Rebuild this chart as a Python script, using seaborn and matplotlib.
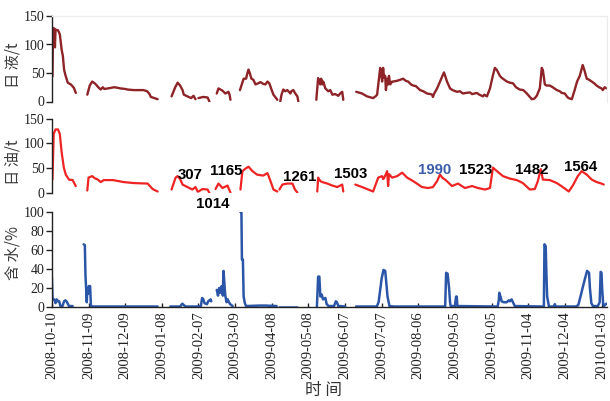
import numpy as np
import pandas as pd
import matplotlib
matplotlib.use("Agg")
import matplotlib.pyplot as plt
import seaborn as sns

nan = np.nan

# ---- data (day offsets from 2008-10-10; nan marks a gap between segments) ----
liquid_day = [0.5, 1, 2, 2.5, 3, 5, 6.5, 8, 9, 10, 11, 13, 15.5, 18, 19.6, nan,
              29, 31, 33, 35, 36, 38, 40, 41.7, 43, 46, 51, 54, 56, 60, 62, 67, 72, 75, 78, 80, 81, 84, 86.6, nan,
              98, 101, 103, 105, 107, 108, 111, 114, 116, 117.6, nan,
              120, 124, 127.5, 129, nan,
              135, 136.4, 139.7, 142, 144.6, 145.5, 146.2, nan,
              154, 157, 159, 160, 161, 162, 163.4, 165, 166.7, 169, 170.8, 173, 174.8, 176.5, 178, 179, 180, 181.4, 184.6, nan,
              187, 188, 189.5, 191, 192.8, 195.3, 196, 197.7, 199, 201, 201.8, nan,
              216.5, 218, 219, 219.8, 220.5, 221.4, 222.2, 223.9, 226.3, 228, 229.6, 232, 234.5, 236, 237.7, 238.6, nan,
              249.2, 254, 258, 263, 265, 266.3, 268.8, 269.5, 270.4, 271.2,
              272, 272.9, 273.5, 274.5, 275.3, 276, 277, 278.6, 279.4, 282,
              285.1, 287.6, 290, 291.7, 294, 295.8, 298, 301.5, 304, 307.2,
              310, 311.3, 312, 313, 315.4, 318, 321, 322, 323.5, 326,
              328, 331.7, 334, 336.6, 339, 342.3, 344, 348, 350, 353,
              354, 356.2, 358.7, 361, 362.7, 364.4, 366.8, 368, 372.5, 375,
              377.5, 380, 383, 386, 388.9, 391.3, 393, 395, 397, 399.5,
              401.1, 402, 403.6, 405, 407.7, 410, 413.4, 415.8, 417.5, 420,
              421.6, 423, 425.7, 428, 430, 432.2, 434.6, 436, 437.9, 440,
              442, 444, 446, 448, 450, 451, 452.6, 454]
liquid_val = [44, 129, 128, 95, 126, 125, 118, 91, 80, 56, 47, 33, 30, 24, 15, nan,
              12, 28, 35, 32, 30, 25, 21, 25, 22, 23, 25, 24, 23, 22, 21, 20, 20, 20, 18, 13, 8, 6, 4, nan,
              9, 25, 33, 28, 20, 12, 9, 6, 10, 4, nan,
              6, 8, 7, 0, nan,
              14, 23, 19, 14, 17, 12, 3, nan,
              20, 40, 40, 49, 56, 50, 40, 38, 30, 32, 34, 31, 30, 35, 32, 26, 20, 12, 3, nan,
              0, 12, 21, 18, 20, 14, 18, 20, 15, 9, 0, nan,
              3, 41, 36, 30, 40, 30, 35, 23, 18, 20, 12, 13, 10, 14, 17, 3, nan,
              17, 14, 9, 6, 9, 12, 59, 50, 35, 59,
              42, 45, 20, 40, 30, 45, 30, 35, 35, 36,
              38, 40, 36, 35, 30, 28, 27, 20, 18, 14,
              13, 12, 8, 14, 23, 36, 51, 45, 35, 23,
              20, 17, 18, 14, 15, 16, 13, 15, 12, 9,
              12, 9, 23, 45, 59, 55, 45, 42, 35, 33,
              32, 25, 21, 20, 14, 8, 4, 5, 10, 23,
              59, 55, 30, 28, 28, 25, 20, 18, 15, 14,
              9, 6, 4, 20, 35, 45, 64, 55, 40, 38,
              35, 32, 28, 25, 23, 20, 25, 23]

oil_day = [0.5, 1.5, 3, 5, 6.5, 8, 9.8, 11.4, 14, 17, 19.6, nan,
           29, 30, 33, 35, 37.6, 40, 42.5, 50, 58.8, 67, 78.4, 82.5, 86.6, nan,
           98, 101.3, 103, 105, 107, 111, 115, 117.6, 119.3, nan,
           120, 123.4, 127.5, 129, nan,
           134, 136.4, 139.7, 143.8, 146.2, nan,
           154.4, 156, 158.5, 161, 164.2, 168, 173, 176.5, 179, 181.4, 184.6, nan,
           186.3, 188.7, 192.8, 197, 199, 201, nan,
           217.3, 218, 219.8, 221.4, 225.5, 229.6, 233.7, 237.7, 238.6, nan,
           248.4, 254, 258, 263, 267.2, 270.4, 271.2, 272, 274.5, 275.3,
           276, 278.6, 282.7, 286.8, 290.8, 295.8, 303, 308, 312, 315.4,
           317.8, 320, 322, 327.6, 332.5, 338.2, 344, 348.9, 354.6, 358.7,
           361.1, 364.4, 369.3, 375, 380.7, 385.6, 391.3, 395.4, 397.9, 400.3,
           402, 407.7, 413.4, 418.3, 423.2, 426.5, 430.6, 433.8, 437.9, 442,
           446, 450, 451.8]
oil_val = [27, 119, 128, 128, 119, 82, 51, 37, 27, 26, 14, nan,
           5, 31, 34, 30, 27, 22, 26, 26, 22, 20, 19, 8, 3, nan,
           7, 31, 34, 28, 17, 12, 7, 12, 3, nan,
           3, 8, 7, 0, nan,
           8, 19, 10, 15, 1, nan,
           7, 44, 49, 53, 44, 37, 35, 40, 24, 7, 3, nan,
           7, 17, 19, 19, 7, 1, nan,
           3, 31, 24, 22, 19, 15, 12, 17, 3, nan,
           17, 12, 8, 3, 31, 34, 28, 30, 44, 14,
           38, 31, 34, 41, 31, 24, 12, 10, 12, 24,
           37, 30, 27, 14, 19, 10, 14, 10, 7, 10,
           51, 44, 34, 29, 26, 20, 7, 8, 24, 48,
           27, 26, 20, 12, 3, 15, 34, 44, 37, 27,
           22, 19, 17]

water_day = [0, 0.3, 0.6, 2, 3, 4, 5, 6, 7, 8.7, 10, 11, 12, 12.8, 14, 17, nan,
             26, 27, 27.5, 28.6, 29, 29.7, 30.3, 31.3, 32, 32.4, 60, 86.6, nan,
             97, 105, 106.8, 108, 109.5, 120, 122, 123, 124, 125, 127, 128, 130, 130.5, nan,
             135, 136, 137, 138, 139, 140, 140.5, 141, 141.5, 142, 143, 144, 145, 146, 148, nan,
             154.4, 155.2, 155.6, 156.4, 157, 158, 159, 170, 175, 184, nan,
             186, 201, nan,
             217, 218, 219, 219.8, 221, 222, 223.9, 225, 226.6, 231, 232.5, 233.4, 234.5, 236, 240, nan,
             249, 266, 267.5, 268.8, 270, 271.5, 272.9, 273.5, 274.8, 276.4,
             280, 322, 322.8, 324, 325.2, 326, 326.5, 330, 330.9, 331.5,
             332, 365, 366, 366.3, 367.5, 368.2, 370, 372.3, 374, 375,
             376.4, 377.5, 379, 402.8, 403.3, 404.3, 405, 405.5, 407, 411,
             411.8, 412.5, 429, 431, 433, 434.9, 436.5, 438.2, 439.8, 440.5,
             441.7, 443, 447, 448.5, 449.3, 450, 450.5, 451.3, 452, 454]
water_val = [32, 18, 8, 8, 4, 8, 6, 6, 1, 1, 6, 7, 6, 4, 1, 1, nan,
             66, 65, 34, 5, 20, 14, 22, 22, 1, 0.5, 0.5, 0.5, nan,
             0.5, 0.5, 3.5, 2, 0.5, 0.5, 1, 9.5, 8, 4, 3, 6, 8, 6, nan,
             18, 12, 20, 15, 22, 12, 38, 30, 20, 12, 5, 8, 5, 3, 1, nan,
             100, 100, 50, 50, 11, 4, 1, 1.5, 1.5, 1, nan,
             0.5, 0.5, nan,
             0.5, 32, 32, 11, 13, 8, 9.5, 3, 1, 1, 6, 5, 1, 1, 0.5, nan,
             0.5, 0.5, 5, 18, 30, 39, 38, 30, 11, 1,
             0.5, 0.5, 36, 35, 20, 5, 1, 1, 11, 11,
             1, 0.5, 8, 15, 10, 6, 5, 5, 7, 6,
             8, 5, 1, 0.5, 66, 64, 30, 11, 0.5, 0.5,
             3, 0.5, 0.5, 2, 12, 22, 30, 38, 36, 20,
             4, 1, 1, 5, 37, 36, 20, 4, 1, 3.5]

tick_days = [0, 30, 60, 90, 120, 150, 180, 210, 240, 270, 300, 330, 360, 390, 420, 450]
tick_labels = ['2008-10-10', '2008-11-09', '2008-12-09', '2009-01-08', '2009-02-07',
               '2009-03-09', '2009-04-08', '2009-05-08', '2009-06-07', '2009-07-07',
               '2009-08-06', '2009-09-05', '2009-10-05', '2009-11-04', '2009-12-04',
               '2010-01-03']

ann_text = ['307', '1014', '1165', '1261', '1503', '1990', '1523', '1482', '1564']
ann_day = [113.6, 131.5, 143, 202.6, 245, 313, 347, 393, 433]
ann_val = [36, -22, 45, 32.5, 38.6, 46.7, 46.7, 46.7, 52.8]
ann_color = ['black', 'black', 'black', 'black', 'black', '#3B5DAA', 'black', 'black', 'black']


def frame(day, val):
    d = pd.DataFrame({'day': day, 'val': val})
    d['seg'] = d['val'].isna().cumsum()
    return d.dropna().reset_index(drop=True)


sns.set_style('ticks')
plt.rcParams['font.family'] = ['Liberation Serif', 'DejaVu Serif']
plt.rcParams['axes.linewidth'] = 1.0

fig = plt.figure(figsize=(6.10, 4.01), dpi=100)
L, W = 51.5 / 610, (607 - 51.5) / 610
ax1 = fig.add_axes([L, 1 - 101.5 / 401, W, 85.5 / 401])
ax2 = fig.add_axes([L, 1 - 193 / 401, W, 74.5 / 401])
ax3 = fig.add_axes([L, 1 - 307 / 401, W, 95 / 401])

cfg = [
    (ax1, frame(liquid_day, liquid_val), '#8E2428', 1.7, (0, 150), [0, 50, 100, 150], '日 液/t', 0.42),
    (ax2, frame(oil_day, oil_val), '#EE2424', 1.6, (0, 150), [0, 50, 100, 150], '日 油/t', 0.42),
    (ax3, frame(water_day, water_val), '#2B56A8', 1.8, (0, 100), [0, 20, 40, 60, 80, 100], '含 水/%', 0.57),
]
cjk = ['Noto Sans CJK SC', 'DejaVu Sans']
for ax, d, col, lw, ylim, yt, lab, ly in cfg:
    sns.lineplot(data=d, x='day', y='val', units='seg', estimator=None, sort=False,
                 color=col, lw=lw, ax=ax, legend=False)
    ax.set_xlim(-0.3, 454.5)
    ax.set_ylim(*ylim)
    ax.set_yticks(yt)
    ax.tick_params(axis='y', direction='out', length=4, width=1, pad=1,
                   labelsize=10, colors='#222222')
    ax.set_xlabel('')
    ax.set_ylabel(lab, family=cjk, fontsize=11, color='#3a3a3a', va='center')
    ax.yaxis.set_label_coords(-0.069, ly)
    for s in ['top', 'right']:
        ax.spines[s].set_visible(False)
    ax.spines['left'].set_color('#222222')
    ax.patch.set_alpha(0)

for ax in (ax1, ax2):
    ax.spines['bottom'].set_visible(False)
    ax.set_xticks([])
ax1.spines['top'].set_visible(True)
ax1.spines['top'].set_color('#ececec')
ax1.spines['right'].set_visible(True)
ax1.spines['right'].set_color('#ececec')

ax3.set_xticks(tick_days)
ax3.set_xticklabels(tick_labels, rotation=90)
ax3.tick_params(axis='x', direction='in', length=3, width=1, pad=3,
                labelsize=10.5, colors='#222222')
ax3.spines['bottom'].set_color('#222222')

for t, x, y, c in zip(ann_text, ann_day, ann_val, ann_color):
    ax2.text(x, y, t, ha='center', va='center', fontsize=10.8, fontweight='bold',
             family=['Liberation Sans', 'DejaVu Sans'], color=c, clip_on=False)

fig.text(324 / 610, 1 - 391 / 401, '时 间', ha='center', va='center',
         fontsize=12, family=cjk, color='#333333')

fig.savefig('out.png', dpi=100)
